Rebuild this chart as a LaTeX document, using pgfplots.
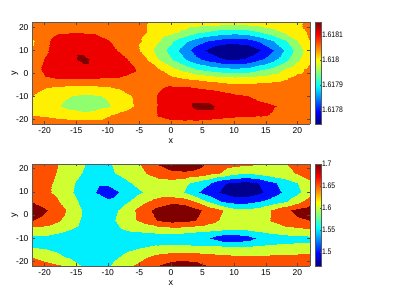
\documentclass[border=0pt]{standalone}
\usepackage{fontspec}
\setmainfont{Liberation Sans}
\newfontfamily\cbfont[FakeStretch=0.85]{Liberation Sans}
\usepackage{pgfplots}
\pgfplotsset{compat=1.18}

\pgfplotsset{
  colormap={topbands}{rgb255(4.4cm)=(0,0,143) rgb255(10cm)=(0,16,255) rgb255(15cm)=(0,143,255)
    rgb255(20cm)=(16,255,239) rgb255(25cm)=(143,255,112) rgb255(30cm)=(255,239,0)
    rgb255(35cm)=(255,112,0) rgb255(40cm)=(239,0,0) rgb255(44cm)=(128,0,0) rgb255(45.1cm)=(128,0,0)},
  colormap={botbands}{rgb255(0.35cm)=(0,0,143) rgb255(1cm)=(0,16,255) rgb255(2cm)=(0,239,255)
    rgb255(3cm)=(207,255,48) rgb255(4cm)=(255,80,0) rgb255(5cm)=(128,0,0) rgb255(5.8cm)=(128,0,0)},
  mainax/.style={
    scale only axis, width=278pt, height=101.5pt, anchor=south west,
    view={0}{90},
    xmin=-22, xmax=22, ymin=-22, ymax=22,
    xtick={-20,-15,...,20}, ytick={-20,-10,...,20},
    tick align=inside, major tick length=2.5pt,
    axis line style={black!65, line width=0.6pt},
    every tick/.style={black!70, line width=0.4pt},
    ticklabel style={font=\fontsize{8.5}{9}\selectfont},
    /pgf/number format/assume math mode=true,
    xlabel={x}, ylabel={y},
    label style={font=\fontsize{9}{10}\selectfont},
    xlabel style={at={(axis description cs:0.5,0)}, anchor=center, yshift=-17pt},
    ylabel style={at={(axis description cs:0,0.5)}, anchor=center, yshift=17pt},
    axis on top,
    colormap access=piecewise constant,
  },
  cbax/.style={
    scale only axis, width=6.5pt, anchor=south west,
    xmin=0, xmax=1, xtick=\empty,
    colormap/jet,
    tick align=inside, major tick length=1.5pt,
    ytick pos=right, yticklabel pos=right,
    axis line style={black!65, line width=0.6pt},
    every tick/.style={black!70, line width=0.4pt},
    yticklabel style={font=\cbfont\fontsize{8}{9}\selectfont, xshift=-3pt},
    axis on top,
  }
}

\begin{document}
\begin{tikzpicture}
\path[use as bounding box] (0,0) rectangle (399pt,299pt);

% ---------- top panel (values: (v - 1.6177) x 1e5) ----------
\begin{axis}[mainax, at={(32pt,175pt)}, colormap name=topbands,
  point meta min=4.4, point meta max=45.1]
\addplot3[surf, shader=interp] coordinates {
(-22,22,36.5) (-20,22,37) (-18,22,38) (-16,22,38.5) (-14,22,38.5) (-12,22,38) (-10,22,37.5) (-8,22,37) (-6,22,36) (-4,22,35.15) (-2,22,34) (0,22,33.25) (2,22,32.75) (4,22,32.5) (6,22,32.25) (8,22,32) (10,22,32) (12,22,32) (14,22,32.25) (16,22,32.75) (18,22,33.5) (20,22,34.5) (22,22,35.75)

(-22,18,36.5) (-20,18,38) (-18,18,39.5) (-16,18,39.75) (-14,18,39.75) (-12,18,39.5) (-10,18,38.5) (-8,18,37.5) (-6,18,36.5) (-4,18,35.1) (-2,18,33.15) (0,18,31.25) (2,18,29) (4,18,26.2) (6,18,24.35) (8,18,22.75) (10,18,22.1) (12,18,22.75) (14,18,24.85) (16,18,27.9) (18,18,30.85) (20,18,33.3) (22,18,35.75)

(-22,14,34.25) (-20,14,39) (-18,14,41.5) (-16,14,42.25) (-14,14,42.5) (-12,14,41.75) (-10,14,40.25) (-8,14,38.5) (-6,14,36.75) (-4,14,34) (-2,14,30.35) (0,14,26) (2,14,21.6) (4,14,17.75) (6,14,14.65) (8,14,12.75) (10,14,11.9) (12,14,12.5) (14,14,15.6) (16,14,19.4) (18,14,24.25) (20,14,29.75) (22,14,35.1)

(-22,10,35) (-20,10,39.25) (-18,10,41.75) (-16,10,42.75) (-14,10,42.75) (-12,10,42.25) (-10,10,41.25) (-8,10,39.5) (-6,10,37.25) (-4,10,32.6) (-2,10,28.25) (0,10,23) (2,10,17.65) (4,10,12.6) (6,10,8.75) (8,10,5.4) (10,10,4.5) (12,10,6.15) (14,10,9.6) (16,10,14.5) (18,10,20.6) (20,10,26.85) (22,10,33.5)

(-22,6,37.5) (-20,6,40.25) (-18,6,42.5) (-16,6,43) (-14,6,45) (-12,6,43) (-10,6,42) (-8,6,41.25) (-6,6,39) (-4,6,35.4) (-2,6,30) (0,6,25.3) (2,6,20.5) (4,6,16.15) (6,6,13) (8,6,10.25) (10,6,9.5) (12,6,10.75) (14,6,14) (16,6,18) (18,6,23.25) (20,6,28.75) (22,6,34.25)

(-22,2,38) (-20,2,41) (-18,2,42.25) (-16,2,42.75) (-14,2,42.5) (-12,2,42.5) (-10,2,42) (-8,2,41.5) (-6,2,40.5) (-4,2,38) (-2,2,35.5) (0,2,31.65) (2,2,28.1) (4,2,24.95) (6,2,23) (8,2,21.5) (10,2,20.85) (12,2,21.5) (14,2,24) (16,2,26.35) (18,2,30.3) (20,2,33.25) (22,2,36.5)

(-22,-2,38) (-20,-2,39.75) (-18,-2,40.05) (-16,-2,40.1) (-14,-2,40.1) (-12,-2,40.05) (-10,-2,39.9) (-8,-2,39.75) (-6,-2,39) (-4,-2,38) (-2,-2,37.5) (0,-2,36) (2,-2,34.75) (4,-2,33.75) (6,-2,32.5) (8,-2,31.5) (10,-2,31.1) (12,-2,31.5) (14,-2,32.25) (16,-2,33) (18,-2,34.5) (20,-2,36.5) (22,-2,37.5)

(-22,-6,37) (-20,-6,35.4) (-18,-6,34.6) (-16,-6,34.25) (-14,-6,34) (-12,-6,34.25) (-10,-6,34.75) (-8,-6,35.75) (-6,-6,37) (-4,-6,38) (-2,-6,39.5) (0,-6,40.5) (2,-6,40.25) (4,-6,39.75) (6,-6,39.25) (8,-6,38.5) (10,-6,37.5) (12,-6,37.25) (14,-6,37.5) (16,-6,37.5) (18,-6,37.5) (20,-6,37.5) (22,-6,37.5)

(-22,-10,35) (-20,-10,33) (-18,-10,31.25) (-16,-10,30.1) (-14,-10,29.25) (-12,-10,29.5) (-10,-10,30.5) (-8,-10,32.75) (-6,-10,35.25) (-4,-10,37.5) (-2,-10,40.25) (0,-10,41.5) (2,-10,42) (4,-10,42.25) (6,-10,42) (8,-10,41.5) (10,-10,40.75) (12,-10,40.15) (14,-10,39) (16,-10,38) (18,-10,37.5) (20,-10,37.5) (22,-10,37.5)

(-22,-14,33.5) (-20,-14,31.75) (-18,-14,30.4) (-16,-14,28.75) (-14,-14,27.5) (-12,-14,28.25) (-10,-14,29.5) (-8,-14,32.25) (-6,-14,34.9) (-4,-14,37.5) (-2,-14,40.25) (0,-14,41.75) (2,-14,42.5) (4,-14,45) (6,-14,45) (8,-14,42.5) (10,-14,42) (12,-14,41.5) (14,-14,41) (16,-14,40.4) (18,-14,39.25) (20,-14,37.75) (22,-14,37.5)

(-22,-18,35) (-20,-18,34.25) (-18,-18,33.25) (-16,-18,32) (-14,-18,31.5) (-12,-18,32) (-10,-18,34.5) (-8,-18,36.5) (-6,-18,38) (-4,-18,38.5) (-2,-18,40.25) (0,-18,41.5) (2,-18,42) (4,-18,42.5) (6,-18,42.5) (8,-18,42) (10,-18,41.5) (12,-18,41) (14,-18,40.5) (16,-18,39.75) (18,-18,38) (20,-18,37.5) (22,-18,37.5)

(-22,-22,37.5) (-20,-22,38) (-18,-22,38) (-16,-22,38) (-14,-22,38) (-12,-22,38) (-10,-22,38) (-8,-22,38) (-6,-22,38.25) (-4,-22,38.25) (-2,-22,38.5) (0,-22,38.75) (2,-22,38.5) (4,-22,38.25) (6,-22,37.5) (8,-22,36) (10,-22,34.75) (12,-22,34.25) (14,-22,34.75) (16,-22,36.5) (18,-22,37.5) (20,-22,37.5) (22,-22,37.5)
};
\end{axis}

\begin{axis}[cbax, at={(315pt,175pt)}, height=101.5pt,
  ymin=4.4, ymax=45.1, point meta min=4.4, point meta max=45.1,
  ytick={10,20,30,40}, yticklabels={1.6178,1.6179,1.618,1.6181}]
\addplot[surf, shader=interp, point meta=y] coordinates {
(0,4.4) (1,4.4)

(0,45.1) (1,45.1)
};
\end{axis}

% ---------- bottom panel ----------
\begin{axis}[mainax, at={(32pt,33pt)}, height=102pt, colormap name=botbands,
  point meta min=1.4675, point meta max=1.74]
\addplot3[surf, shader=interp] coordinates {
(-22,22,1.68) (-20,22,1.665) (-18,22,1.6515) (-16,22,1.6275) (-14,22,1.604) (-12,22,1.58) (-10,22,1.5925) (-8,22,1.6175) (-6,22,1.6375) (-4,22,1.66) (-2,22,1.7025) (0,22,1.725) (2,22,1.735) (4,22,1.72) (6,22,1.6925) (8,22,1.675) (10,22,1.665) (12,22,1.6575) (14,22,1.649) (16,22,1.6375) (18,22,1.6475) (20,22,1.665) (22,22,1.675)

(-22,18,1.675) (-20,18,1.6625) (-18,18,1.6485) (-16,18,1.625) (-14,18,1.5975) (-12,18,1.5775) (-10,18,1.5875) (-8,18,1.61) (-6,18,1.63) (-4,18,1.651) (-2,18,1.6725) (0,18,1.69) (2,18,1.6925) (4,18,1.685) (6,18,1.6675) (8,18,1.645) (10,18,1.615) (12,18,1.605) (14,18,1.615) (16,18,1.63) (18,18,1.6425) (20,18,1.6525) (22,18,1.67)

(-22,14,1.67) (-20,14,1.6575) (-18,14,1.645) (-16,14,1.6125) (-14,14,1.58) (-12,14,1.5625) (-10,14,1.56) (-8,14,1.575) (-6,14,1.604) (-4,14,1.62) (-2,14,1.63) (0,14,1.6325) (2,14,1.615) (4,14,1.585) (6,14,1.555) (8,14,1.5075) (10,14,1.49) (12,14,1.485) (14,14,1.5025) (16,14,1.54) (18,14,1.5675) (20,14,1.599) (22,14,1.6425)

(-22,10,1.6675) (-20,10,1.6575) (-18,10,1.6425) (-16,10,1.6075) (-14,10,1.575) (-12,10,1.551) (-10,10,1.525) (-8,10,1.5525) (-6,10,1.58) (-4,10,1.6075) (-2,10,1.62) (0,10,1.6125) (2,10,1.599) (4,10,1.5575) (6,10,1.525) (8,10,1.4925) (10,10,1.4725) (12,10,1.47) (14,10,1.49) (16,10,1.5275) (18,10,1.56) (20,10,1.5875) (22,10,1.63)

(-22,6,1.6975) (-20,6,1.68) (-18,6,1.655) (-16,6,1.62) (-14,6,1.5875) (-12,6,1.5675) (-10,6,1.5575) (-8,6,1.575) (-6,6,1.61) (-4,6,1.645) (-2,6,1.6675) (0,6,1.685) (2,6,1.675) (4,6,1.645) (6,6,1.59) (8,6,1.545) (10,6,1.53) (12,6,1.5325) (14,6,1.5475) (16,6,1.57) (18,6,1.5925) (20,6,1.63) (22,6,1.675)

(-22,2,1.73) (-20,2,1.705) (-18,2,1.6775) (-16,2,1.6375) (-14,2,1.595) (-12,2,1.575) (-10,2,1.5775) (-8,2,1.605) (-6,2,1.645) (-4,2,1.6875) (-2,2,1.7175) (0,2,1.735) (2,2,1.7375) (4,2,1.7125) (6,2,1.6825) (8,2,1.6525) (10,2,1.6175) (12,2,1.61) (14,2,1.6225) (16,2,1.6525) (18,2,1.6875) (20,2,1.715) (22,2,1.73)

(-22,-2,1.7025) (-20,-2,1.685) (-18,-2,1.66) (-16,-2,1.625) (-14,-2,1.5925) (-12,-2,1.5775) (-10,-2,1.585) (-8,-2,1.6125) (-6,-2,1.6425) (-4,-2,1.675) (-2,-2,1.705) (0,-2,1.72) (2,-2,1.7175) (4,-2,1.699) (6,-2,1.67) (8,-2,1.6425) (10,-2,1.6225) (12,-2,1.6175) (14,-2,1.63) (16,-2,1.655) (18,-2,1.6775) (20,-2,1.6925) (22,-2,1.701)

(-22,-6,1.635) (-20,-6,1.63) (-18,-6,1.6175) (-16,-6,1.6025) (-14,-6,1.585) (-12,-6,1.575) (-10,-6,1.5825) (-8,-6,1.5975) (-6,-6,1.61) (-4,-6,1.615) (-2,-6,1.6275) (0,-6,1.6325) (2,-6,1.63) (4,-6,1.6225) (6,-6,1.615) (8,-6,1.61) (10,-6,1.605) (12,-6,1.6075) (14,-6,1.615) (16,-6,1.6275) (18,-6,1.6375) (20,-6,1.6425) (22,-6,1.6475)

(-22,-10,1.5875) (-20,-10,1.59) (-18,-10,1.58) (-16,-10,1.57) (-14,-10,1.565) (-12,-10,1.5625) (-10,-10,1.565) (-8,-10,1.5725) (-6,-10,1.58) (-4,-10,1.575) (-2,-10,1.5725) (0,-10,1.5675) (2,-10,1.5625) (4,-10,1.555) (6,-10,1.5525) (8,-10,1.52) (10,-10,1.5125) (12,-10,1.53) (14,-10,1.56) (16,-10,1.5725) (18,-10,1.58) (20,-10,1.585) (22,-10,1.5875)

(-22,-14,1.5975) (-20,-14,1.595) (-18,-14,1.5875) (-16,-14,1.575) (-14,-14,1.5675) (-12,-14,1.565) (-10,-14,1.5675) (-8,-14,1.5775) (-6,-14,1.59) (-4,-14,1.601) (-2,-14,1.6075) (0,-14,1.6125) (2,-14,1.6125) (4,-14,1.61) (6,-14,1.6075) (8,-14,1.6075) (10,-14,1.6075) (12,-14,1.6075) (14,-14,1.61) (16,-14,1.6125) (18,-14,1.615) (20,-14,1.615) (22,-14,1.615)

(-22,-18,1.65) (-20,-18,1.6325) (-18,-18,1.6125) (-16,-18,1.5925) (-14,-18,1.5775) (-12,-18,1.5725) (-10,-18,1.58) (-8,-18,1.6025) (-6,-18,1.625) (-4,-18,1.6475) (-2,-18,1.6675) (0,-18,1.6775) (2,-18,1.6825) (4,-18,1.68) (6,-18,1.6725) (8,-18,1.665) (10,-18,1.66) (12,-18,1.66) (14,-18,1.66) (16,-18,1.66) (18,-18,1.6625) (20,-18,1.665) (22,-18,1.6675)

(-22,-22,1.6775) (-20,-22,1.6675) (-18,-22,1.6575) (-16,-22,1.6475) (-14,-22,1.595) (-12,-22,1.58) (-10,-22,1.595) (-8,-22,1.625) (-6,-22,1.6525) (-4,-22,1.675) (-2,-22,1.701) (0,-22,1.72) (2,-22,1.73) (4,-22,1.72) (6,-22,1.6975) (8,-22,1.68) (10,-22,1.6725) (12,-22,1.67) (14,-22,1.67) (16,-22,1.67) (18,-22,1.6725) (20,-22,1.675) (22,-22,1.6775)
};
\end{axis}

\begin{axis}[cbax, at={(315pt,33pt)}, height=102pt,
  ymin=1.4675, ymax=1.70, point meta min=1.4675, point meta max=1.70,
  ytick={1.5,1.55,1.6,1.65,1.7}, yticklabels={1.5,1.55,1.6,1.65,1.7}]
\addplot[surf, shader=interp, point meta=y] coordinates {
(0,1.4675) (1,1.4675)

(0,1.70) (1,1.70)
};
\end{axis}
\end{tikzpicture}
\end{document}
